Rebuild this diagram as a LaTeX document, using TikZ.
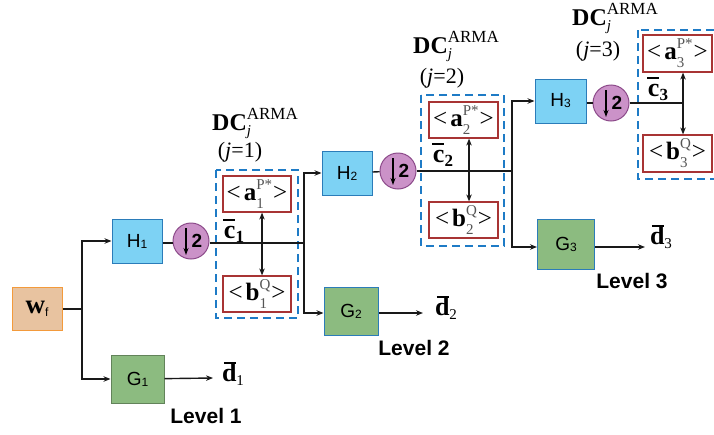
\documentclass[tikz,border=0pt]{standalone}
\usepackage{fontspec}
\setmainfont{Liberation Serif}
\setsansfont{Liberation Sans}
\usetikzlibrary{arrows.meta,positioning,calc}
\usepackage{xcolor}
\definecolor{wfill}{HTML}{E8C3A0}
\definecolor{wline}{HTML}{F39A3B}
\definecolor{hfill}{HTML}{7DD2F4}
\definecolor{hline}{HTML}{2B7CB9}
\definecolor{gfill}{HTML}{8CBB80}
\definecolor{dsfill}{HTML}{CB92C8}
\definecolor{dsline}{HTML}{8C4A8A}
\definecolor{coef}{HTML}{A83434}
\definecolor{dcblue}{HTML}{1E7BC6}
\definecolor{idx}{HTML}{555555}

\newcommand{\fs}[1]{\fontsize{#1}{#1}\selectfont}
\newcommand{\blk}[2]{\fs{19}#1\raisebox{-1pt}{\fs{12}#2}}
\newcommand{\dclab}{\fs{24}\textbf{DC}\rlap{\raisebox{11pt}{\fs{17}ARMA}}\raisebox{-5pt}{\fs{15}\itshape j}}
% coefficient box text: < x_{sub}^{sup} >
\newcommand{\cof}[3]{\fs{25}<\hspace{3pt}\textbf{#1}\rlap{\raisebox{11pt}{\fs{15}\color{idx}#3}}\rlap{\raisebox{-8pt}{\fs{15}\color{idx}#2}}\phantom{\fs{15}#3}\hspace{1pt}>}
\newcommand{\bsig}[3]{\fs{26}\textbf{#1}\llap{\rule[18pt]{12pt}{1.6pt}\hspace{0.5pt}}\raisebox{-4pt}{\fs{#3}#2}}

\begin{document}
\begin{tikzpicture}[x=1pt, y=-1pt, >={Stealth[length=7pt,width=5.5pt]},
  wire/.style={line width=1.4pt, black!90},
  wbox/.style={draw=wline, fill=wfill, line width=1pt, minimum width=50pt, minimum height=43pt, inner sep=0pt},
  hbox/.style={draw=hline, fill=hfill, line width=1pt, minimum width=50pt, minimum height=44pt, inner sep=0pt, font=\sffamily},
  gbox/.style={draw=hline, fill=gfill, line width=1pt, minimum width=54pt, minimum height=48pt, inner sep=0pt, font=\sffamily},
  dsamp/.style={circle, draw=dsline, fill=dsfill, line width=1pt, minimum size=36pt, inner sep=0pt, font=\sffamily\bfseries\fs{19}},
  coefbox/.style={draw=coef, line width=1.2pt, fill=white, minimum width=68pt, minimum height=36pt, inner sep=0pt},
  dcbox/.style={draw=dcblue, line width=1.8pt, dash pattern=on 8pt off 5pt},
  lvl/.style={font=\sffamily\bfseries\fs{21}},
  sig/.style={inner sep=0pt}]
  \useasboundingbox (0,0) rectangle (714,434);

  % DC blocks
  \draw[dcbox] (216,170) rectangle (298,318);
  \draw[dcbox] (421,95) rectangle (504,246);
  \draw[dcbox] (638,30) rectangle (722,179);
  \node[anchor=base west, inner sep=0pt] (t1) at (212,130) {\dclab};
  \node[anchor=base west, inner sep=0pt] (t2) at (413,53) {\dclab};
  \node[anchor=base west, inner sep=0pt] (t3) at (572,25) {\dclab};
  \node[font=\fs{22}, inner sep=0pt] (j1) at (240,152) {(\textit{j}=1)};
  \node[font=\fs{22}, inner sep=0pt] (j2) at (442,78) {(\textit{j}=2)};
  \node[font=\fs{22}, inner sep=0pt] (j3) at (598,51) {(\textit{j}=3)};

  % blocks
  \node[wbox] (wf) at (37,309) {\fs{27}\textbf{w}\raisebox{-3pt}{\sffamily\fs{12}f}};
  \node[hbox] (h1) at (137,241) {\blk{H}{1}};
  \node[gbox, draw=gfill!70!black, minimum width=53pt] (g1) at (137.5,379) {\blk{G}{1}};
  \node[dsamp] (s1) at (191,241) {\hspace{12pt}2};
  \node[coefbox] (a1) at (257,194) {\cof{a}{1}{P*}};
  \node[coefbox] (b1) at (257,294) {\cof{b}{1}{Q}};
  \node[hbox] (h2) at (347,173) {\blk{H}{2}};
  \node[gbox] (g2) at (351,311) {\blk{G}{2}};
  \node[dsamp] (s2) at (398,171) {\hspace{12pt}2};
  \node[coefbox, minimum width=69pt] (a2) at (463.5,120) {\cof{a}{2}{P*}};
  \node[coefbox, minimum width=69pt] (b2) at (463.5,220) {\cof{b}{2}{Q}};
  \node[hbox, minimum width=51pt] (h3) at (560.5,101) {\blk{H}{3}};
  \node[gbox, minimum width=57pt, minimum height=50pt] (g3) at (566,244) {\blk{G}{3}};
  \node[dsamp] (s3) at (611,103) {\hspace{12pt}2};
  \node[coefbox, minimum width=69pt, minimum height=37pt] (a3) at (677.5,53.5) {\cof{a}{3}{P*}};
  \node[coefbox, minimum width=69pt, minimum height=37pt] (b3) at (677.5,153.5) {\cof{b}{3}{Q}};
  % down-sampling arrows
  \foreach \s in {s1,s2,s3}
    \draw[line width=1.2pt, -{Stealth[length=7pt,width=5pt]}] ([xshift=-5pt,yshift=13pt]\s.center) -- ([xshift=-5pt,yshift=-14pt]\s.center);

  % junctions and outputs
  \coordinate (k0) at (82,309);
  \coordinate (k1) at (304,243);
  \coordinate (k2) at (512,171);
  \coordinate (m1) at (262,243);
  \coordinate (m2) at (469,171);
  \coordinate (m3) at (683,103);
  \coordinate (o1) at (213,378);
  \coordinate (o2) at (423,313);
  \coordinate (o3) at (645,247);
  \node[sig] (d1) at (233,374) {\bsig{d}{1}{15}};
  \node[sig] (d2) at (446,308) {\bsig{d}{2}{15}};
  \node[sig] (d3) at (661,237) {\bsig{d}{3}{15}};
  \node[sig] (c1) at (234,231) {\bsig{c}{\textbf{1}}{17}};
  \node[sig] (c2) at (443,155) {\bsig{c}{\textbf{2}}{17}};
  \node[sig] (c3) at (658,89) {\bsig{c}{\textbf{3}}{17}};

  % level 1
  \draw[wire] (wf) -- (k0);
  \draw[wire, ->] (k0) |- (h1);
  \draw[wire, ->] (k0) |- (g1);
  \draw[wire, ->] (g1) -- (o1);
  \draw[wire] (h1.east |- 0,243) -- (s1.west |- 0,243);
  \draw[wire] (s1.east |- k1) -- (k1);
  \draw[wire, <->] (m1 |- a1.south) -- (m1 |- b1.north);
  % level 2
  \draw[wire, ->] (k1) |- (h2);
  \draw[wire, ->] (k1) |- (g2.west |- o2);
  \draw[wire, ->] (g2.east |- o2) -- (o2);
  \draw[wire] (h2) -- (s2);
  \draw[wire] (s2) -- (k2);
  \draw[wire, <->] (m2 |- a2.south) -- (m2 |- b2.north);
  % level 3
  \draw[wire, ->] (k2) |- (h3);
  \draw[wire, ->] (k2) |- (g3.west |- o3);
  \draw[wire, ->] (g3.east |- o3) -- (o3);
  \draw[wire] (h3.east |- s3) -- (s3);
  \draw[wire] (s3) -- (m3);
  \draw[wire, <->] (m3 |- a3.south) -- (m3 |- b3.north);

  \node[lvl] (l1) at (206,416) {Level 1};
  \node[lvl] (l2) at (414,348) {Level 2};
  \node[lvl] (l3) at (632,281) {Level 3};
\end{tikzpicture}
\end{document}
